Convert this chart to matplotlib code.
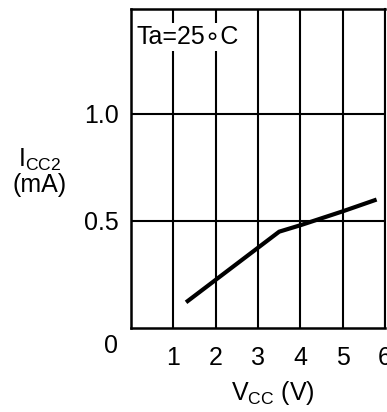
import matplotlib.pyplot as plt

plt.rcParams['font.family'] = ['Liberation Sans', 'DejaVu Sans']

# data
vcc = [1.3, 2.0, 3.0, 3.5, 4.0, 5.0, 5.8]
icc2 = [0.12, 0.225, 0.375, 0.45, 0.48, 0.545, 0.6]

xticks = [1, 2, 3, 4, 5, 6]
yticks = [0.5, 1.0]
ytick_labels = ['0.5', '1.0']

fs = 18

fig = plt.figure(figsize=(3.87, 4.12), dpi=100)
ax = fig.add_axes([0.3385, 0.2039, 0.6565, 0.7742])

ax.plot(vcc, icc2, color='black', linewidth=3.0, solid_capstyle='butt')

ax.set_xlim(0, 6)
ax.set_ylim(0, 1.49)
ax.set_xticks(xticks)
ax.set_xticklabels([str(t) for t in xticks])
ax.set_yticks(yticks)
ax.set_yticklabels(ytick_labels)
ax.tick_params(length=0, labelsize=fs, colors='black')
ax.tick_params(axis='x', pad=13)
ax.tick_params(axis='y', pad=9)
ax.grid(True, color='black', linewidth=1.5)
for s in ax.spines.values():
    s.set_linewidth(1.8)
    s.set_color('black')
ax.spines['right'].set_linewidth(1.5)

ax.text(-0.3, -0.085, '0', ha='right', va='center', fontsize=fs)
ax.text(0.13, 1.36, 'Ta=25\u2218C', ha='left', va='center', fontsize=fs,
        bbox=dict(facecolor='white', edgecolor='none', pad=1.5), zorder=5)

fig.text(273 / 387, 1 - 393 / 412, r'$\mathregular{V_{CC}}$ (V)', ha='center', va='center', fontsize=fs)
fig.text(40 / 387, 1 - 172 / 412, '$\\mathregular{I_{CC2}}$\n(mA)', ha='center', va='center',
         fontsize=fs, linespacing=1.0)

fig.savefig('out.png', dpi=100)
